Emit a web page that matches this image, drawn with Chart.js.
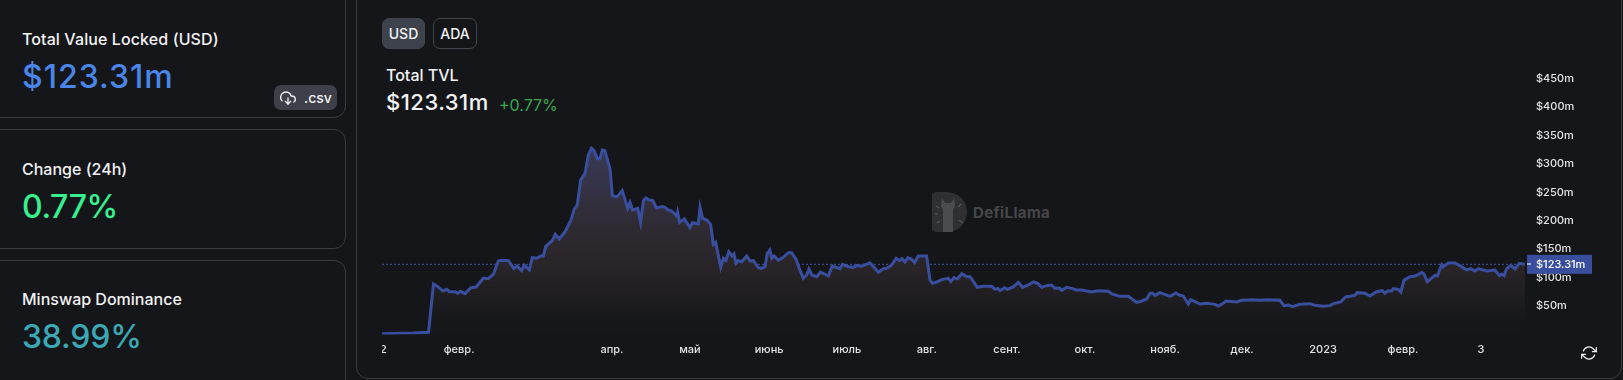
<!DOCTYPE html>
<html lang="ru">
<head>
<meta charset="utf-8">
<title>Minswap TVL</title>
<script src="https://cdn.jsdelivr.net/npm/chart.js@4"></script>
<style>
  html, body { margin: 0; width: 1623px; height: 380px; overflow: hidden; background: #15161a; font-family: Inter, sans-serif; color: #f2f2f3; }
  .card, .panel { position: absolute; box-sizing: border-box; border: 1px solid #3a3c44; border-radius: 12px; background: #15161a; }
  .abs { position: absolute; white-space: nowrap; line-height: 1; }
  .label { font-size: 16px; font-weight: 500; left: 22px; }
  .big { font-size: 32px; font-weight: 500; left: 22px; }
  .btn { position: absolute; box-sizing: border-box; top: 18px; height: 31px; border-radius: 7px; border: 1px solid #42454e; font-size: 14px; font-weight: 500; line-height: 29px; text-align: center; }
  #chartWrap { position: absolute; left: 382px; top: 50px; width: 1238px; height: 315px; }
</style>
</head>
<body>
<div class="card" style="left:-20px;top:-20px;width:366px;height:138px"></div>
<div class="card" style="left:-20px;top:129px;width:366px;height:120px"></div>
<div class="card" style="left:-20px;top:260px;width:366px;height:140px"></div>
<div class="panel" style="left:356px;top:-20px;width:1266px;height:399px"></div>

<div class="abs label" style="top:31px;letter-spacing:.1px">Total Value Locked (USD)</div>
<div class="abs big" style="top:61px;color:#4a86e8;letter-spacing:1px">$123.31m</div>
<div class="abs label" style="top:161px">Change (24h)</div>
<div class="abs big" style="top:191px;color:#38f08f;letter-spacing:-.4px">0.77%</div>
<div class="abs label" style="top:291px">Minswap Dominance</div>
<div class="abs big" style="top:321px;color:#3ba8b4;letter-spacing:-.2px">38.99%</div>

<div class="abs" style="left:274px;top:85px;width:63px;height:25px;background:#3d4048;border-radius:7px"></div>
<svg class="abs" style="left:280px;top:90px" width="16" height="16" viewBox="0 0 24 24" fill="none" stroke="#f2f2f3" stroke-width="2" stroke-linecap="round" stroke-linejoin="round"><polyline points="8 17 12 21 16 17"/><line x1="12" y1="12" x2="12" y2="21"/><path d="M20.88 18.09A5 5 0 0 0 18 9h-1.26A8 8 0 1 0 3 16.29"/></svg>
<div class="abs" style="left:304px;top:91px;font-size:14px;font-weight:500">.csv</div>

<div class="btn" style="left:382px;width:43px;background:#3e424c">USD</div>
<div class="btn" style="left:433px;width:44px">ADA</div>

<div class="abs" style="left:386px;top:67px;font-size:16px;font-weight:500">Total TVL</div>
<div class="abs" style="left:386px;top:91px;font-size:22px;font-weight:500;letter-spacing:.5px">$123.31m</div>
<div class="abs" style="left:499px;top:97px;font-size:16px;color:#3fa650">+0.77%</div>

<!-- watermark -->
<svg class="abs" style="left:932px;top:192px" width="35" height="40" viewBox="0 0 35 40">
  <path d="M0 4a4 4 0 0 1 4-4h11a20 20 0 0 1 0 40H4a4 4 0 0 1-4-4z" fill="#2f3034"/>
  <path d="M10 6l3 5h6l3-5 1 8-2 4v22H11V18l-2-4z" fill="#4b4c50"/>
  <path d="M4 14l3 2M3 22h3M5 31l3-2M29 12l-3 3M31 31l-4-3" stroke="#55565a" stroke-width="1.2"/>
</svg>
<div class="abs" style="left:973px;top:205px;font-size:15px;font-weight:700;color:#46474b;letter-spacing:.4px">DefiLlama</div>

<div id="chartWrap"><canvas id="tvlChart"></canvas></div>

<svg class="abs" style="left:1581px;top:345px" width="16" height="16" viewBox="0 0 24 24" fill="none" stroke="#f2f2f3" stroke-width="1.8" stroke-linecap="round" stroke-linejoin="round"><polyline points="23 4 23 10 17 10"/><polyline points="1 20 1 14 7 14"/><path d="M3.51 9a9 9 0 0 1 14.85-3.36L23 10M1 14l4.64 4.36A9 9 0 0 0 20.49 15"/></svg>

<script>
'use strict';

// days since the first data point (2 Jan 2022)
const days = [
  0, 12.1, 18, 19.9, 21.1, 23.5, 25, 26, 28.2, 29.3, 30.4, 32.1, 34.4, 36.4, 39.2, 41.1, 43.1, 45, 46.3, 48.9,
  51, 52.3, 54, 55, 57, 58.1, 59.8, 61.4, 62.4, 63.3, 66, 67, 68.5, 70.8, 73.1, 74.3, 75.5, 76.8, 78.5, 79.8,
  81, 82, 83.3, 84.3, 85.2, 86.2, 88.2, 89.1, 91, 92.9, 95, 95.9, 96.9, 98.9, 100, 101.1, 102, 103.4, 104.7, 106.1,
  108.2, 109.4, 110.7, 112, 114, 114.3, 115.1, 116.9, 119.1, 120.1, 122.3, 123, 124, 125.6, 127.1, 128.1, 129, 131, 132, 133,
  134.1, 135.4, 136.1, 136.9, 137.8, 139.1, 141, 142.3, 143.6, 145.5, 146.8, 148.1, 149, 150,
  150.7, 151.6, 153.3, 155.2, 157.1, 158.4, 160.1, 161.6, 162.9, 164.2, 165.1, 166.2, 168.1, 169.6, 172.6, 174.1, 177.1, 178.1, 180.3, 182.3,
  183.8, 185.1, 187.2, 188.7, 190.3, 191.9, 193.9, 195.4, 197.1, 198.8, 200.1, 201.1, 202.2, 203.4, 204.8, 205.9, 207.4, 210.6, 211.9, 212.9,
  214.5, 216.4, 219, 220, 221.2, 222.5, 224.2, 226.1, 227.4, 230.2, 232.5, 235.8, 237, 238.1, 239, 240.7, 241.8, 244.1, 246.1, 247.7,
  249.9, 251.9, 253.5, 255.1, 257, 258.9, 260.2, 261.9, 262.9, 264.8, 266.7, 268.6, 270.6, 274.4, 277, 280.9, 282.2, 285.4, 288.6, 291.8,
  293.8, 295.7, 297, 298, 298.9, 300.8, 304.7, 307, 308.3, 309.9, 311.8, 312.7, 314.4, 316.3,
  318.9, 322.1, 323.4, 324.7, 326.4, 330.5, 332.4, 336.9, 339.5, 342.1, 347.2, 348.8, 350.5, 352, 355, 358.8, 360.8, 364, 366.6, 367.9,
  370.7, 372.6, 376.2, 377.1, 380.1, 382, 384.6, 386.8, 387.8, 389.1, 390.4, 391.1, 393, 394, 395.2, 397.5, 399.4, 400.7, 402, 402.9,
  404.2, 407.2, 408.1, 409.8, 410.4, 412.3, 414.9, 417.5, 419.4, 421, 422.6, 423.9, 427.2, 430.4, 432.1, 433, 433.9, 434.9, 436.6, 438.1, 439.8, 442
];

// TVL in $m
const tvl = [
  1.5, 2.6, 3.8, 88.8, 85.8, 76.5, 79.4, 75.3, 75.3, 72.4, 75.9, 71.8, 82.3, 83.5, 99.3, 98.1, 106.3, 129.2, 130.4, 129.8,
  115.7, 120.4, 112.2, 121.6, 113.4, 135, 133.9, 138, 138, 154.4, 166.1, 176, 167.8, 180.7, 201.2, 220, 227.6, 271.5, 283.2, 315.5,
  327.2, 323.1, 309, 309, 324.3, 323.1, 290.3, 243.4, 242.2, 252.8, 221.7, 232.3, 218.8, 221.7, 197.1, 235.2, 239.9, 236.4, 235.8, 222.3,
  224.7, 223.5, 218.8, 217.1, 208.3, 214.7, 197.1, 203, 187.8, 196.5, 194.2, 223.5, 204.2, 201.2, 193.6, 158.5, 162, 118.1, 133.9, 129.8,
  145.6, 138, 141.5, 125.1, 129.8, 127.4, 138, 129.2, 129.8, 117.5, 116.3, 119.2, 142.7, 148.5,
  133.9, 138, 130.3, 135.6, 143.8, 143.8, 132.1, 113.4, 98.7, 104.6, 115.1, 104.6, 101.6, 109.8, 102.8, 120.4, 115.7, 123.3, 119.2, 118,
  121.6, 119.8, 123.3, 125.7, 118, 109.3, 115.7, 116.9, 122.1, 133.9, 129.8, 133.3, 127.4, 135, 132.1, 126.2, 138, 138, 95.8, 89.9,
  92.3, 96.4, 98.7, 92.9, 99.9, 97.5, 106.9, 101.6, 101.6, 82.9, 84.7, 84.7, 79.4, 81.1, 77.1, 82.3, 79.4, 83.5, 91.7, 82.9,
  87, 92.3, 89.9, 82.9, 85.8, 87, 81.1, 81.7, 77.6, 82.9, 81.1, 78.2, 78.2, 74.7, 77, 75.9, 71.2, 67.1, 67.1, 56.5,
  58.9, 62.4, 72.4, 72.4, 68.3, 73.5, 67.1, 72.9, 69.4, 67.7, 53.6, 61.2, 57.7, 53.6,
  54.8, 53, 50.1, 53, 58.9, 57.1, 60.1, 61.2, 60.1, 61.2, 60.1, 50.7, 51.9, 48.9, 53, 54.2, 51.3, 49.5, 50.7, 54.2,
  57.1, 65.9, 68.8, 73.5, 72.4, 67.7, 75.3, 77, 72.4, 77, 76.5, 80.6, 79.4, 74.7, 95.2, 101.6, 102.8, 105.2, 109.3, 106.3,
  92.9, 104, 102.8, 122.7, 119.2, 125.7, 125.7, 119.2, 113.4, 115.7, 111.6, 115.7, 111.6, 113.4, 103.4, 106.3, 103.4, 115.7, 121.6, 115.1, 125.1, 123.31
];

const lastTvl = 123.31;
const xTickDays = [-3.5, 29.8, 88.9, 119.1, 149.7, 179.8, 210.7, 241.7, 271.8, 302.8, 332.6, 363.9, 394.8, 425];
const xTickLabels = ['2022', 'февр.', 'апр.', 'май', 'июнь', 'июль', 'авг.', 'сент.', 'окт.', 'нояб.', 'дек.', '2023', 'февр.', '3'];
const yTickValues = [50, 100, 150, 200, 250, 300, 350, 400, 450];

const AXIS_FONT = { family: 'Inter, sans-serif', size: 11, weight: '500' };
const LINE_COLOR = '#3a4e9e';

// Blue tag with the latest value, sits over the y axis labels
const priceTag = {
  id: 'priceTag',
  afterDraw(chart) {
    const { ctx, chartArea, scales } = chart;
    const y = scales.y.getPixelForValue(lastTvl);
    const left = chartArea.right + 2;
    ctx.save();
    ctx.fillStyle = LINE_COLOR;
    ctx.fillRect(left, y - 9.5, 65, 19);
    ctx.fillStyle = '#fff';
    ctx.fillRect(left, Math.round(y) - 0.5, 4, 1);
    ctx.font = '500 11px Inter, sans-serif';
    ctx.textBaseline = 'middle';
    ctx.fillText('$' + lastTvl + 'm', left + 9, y);
    ctx.restore();
  },
};

function areaFill(context) {
  const { ctx, chartArea, scales } = context.chart;
  if (!chartArea) return 'transparent';
  const g = ctx.createLinearGradient(0, scales.y.getPixelForValue(330), 0, scales.y.getPixelForValue(22));
  g.addColorStop(0, '#3a3a58');
  g.addColorStop(0.45, '#2f2b33');
  g.addColorStop(0.72, '#272326');
  g.addColorStop(1, '#16171b');
  return g;
}

new Chart(document.getElementById('tvlChart').getContext('2d'), {
  type: 'line',
  data: {
    datasets: [
      {
        label: 'TVL',
        data: days.map((d, i) => ({ x: d, y: tvl[i] })),
        borderColor: LINE_COLOR,
        borderWidth: 3,
        backgroundColor: areaFill,
        fill: 'origin',
        tension: 0,
        pointRadius: 0,
      },
      {
        label: 'Last',
        data: [{ x: days[0], y: lastTvl }, { x: days[days.length - 1], y: lastTvl }],
        borderColor: '#42539f',
        borderWidth: 1,
        borderDash: [2, 2],
        fill: false,
        pointRadius: 0,
      },
    ],
  },
  options: {
    responsive: true,
    maintainAspectRatio: false,
    animation: false,
    layout: { padding: 0 },
    plugins: { legend: { display: false }, tooltip: { enabled: false } },
    scales: {
      x: {
        type: 'linear',
        min: 0,
        max: days[days.length - 1],
        grid: { display: false, drawTicks: false },
        border: { display: false },
        afterBuildTicks: s => { s.ticks = xTickDays.map(v => ({ value: v })); },
        afterTickToLabelConversion: s => { s.ticks.forEach((t, i) => { t.label = xTickLabels[i]; }); },
        afterFit: s => { s.height = 30.5; s.paddingLeft = 0; s.paddingRight = 0; },
        ticks: { autoSkip: false, maxRotation: 0, color: '#e4e4e6', font: AXIS_FONT, padding: 9 },
      },
      y: {
        position: 'right',
        min: 0,
        max: 500,
        grid: { display: false, drawTicks: false },
        border: { display: false },
        afterBuildTicks: s => { s.ticks = yTickValues.map(v => ({ value: v })); },
        afterFit: s => { s.width = 95; s.paddingTop = 0; s.paddingBottom = 0; },
        ticks: { color: '#e4e4e6', font: AXIS_FONT, padding: 11, callback: v => '$' + v + 'm' },
      },
    },
  },
  plugins: [priceTag],
});
</script>
</body>
</html>
